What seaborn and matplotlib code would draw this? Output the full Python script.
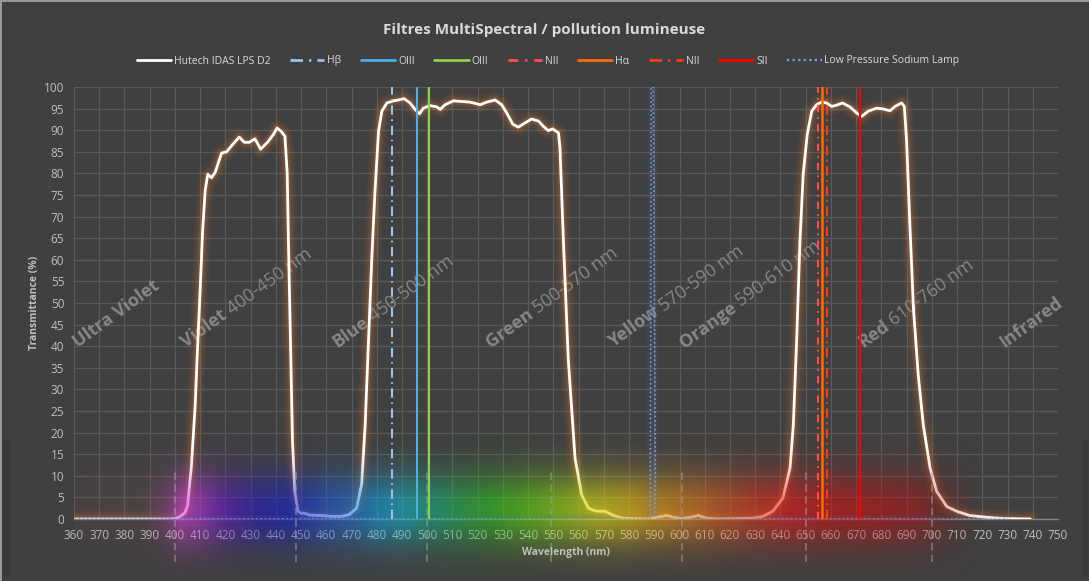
import numpy as np
import pandas as pd
import matplotlib
matplotlib.use("Agg")
import matplotlib.pyplot as plt
import seaborn as sns
from matplotlib.lines import Line2D
from matplotlib.patches import Rectangle

# ---------------- data ----------------
wavelength_nm = [360, 380, 398, 400, 402, 404, 405, 406.5, 408, 409, 410, 411, 412, 413,
                 414.5, 416, 417.5, 418.5, 420.5, 423, 425.5, 427.5, 429.5, 431.7, 434, 437,
                 439, 440.5, 442, 443.6, 444.5, 445, 445.8, 446.6, 447.5, 448.8, 450, 451,
                 453.5, 458, 462, 466, 469, 472, 474, 475.4, 476.7, 478, 479.3, 480.7, 482,
                 484, 486.6, 488.6, 490.8, 493.2, 495.2, 496.9, 498.5, 501, 503.8, 505.1,
                 507.1, 510.4, 517, 521, 523.6, 526.9, 529.5, 531.5, 533.9, 536.1, 538.8,
                 541.4, 544.1, 546, 548, 549.7, 552, 552.6, 554, 555.9, 558.6, 561.2, 563.9,
                 567, 570.5, 573.8, 577.8, 587, 591, 594.9, 597.5, 600.8, 604.1, 607.4,
                 610.7, 616, 629, 633, 637, 641, 643.8, 645.1, 646.4, 647.7, 649, 650.6,
                 652.4, 654.3, 656.3, 658.3, 660.3, 662.3, 664.6, 667.5, 670.2, 672.2, 674.8,
                 678.1, 680.8, 683.4, 685.4, 688, 689.1, 690, 691.3, 692.7, 694.6, 696.6,
                 699.3, 701.9, 705.9, 709.8, 715, 721.7, 728.3, 739]
transmittance = [0, 0, 0, 0.1, 0.5, 1.5, 3, 12, 26, 40, 53, 67, 76, 79.8,
                 79, 80.3, 83, 84.7, 85, 86.8, 88.4, 87.2, 87.2, 88, 85.6, 87.4,
                 89, 90.5, 89.8, 88.6, 80, 64, 41, 18, 6.4, 1.8, 1.3, 1.4,
                 0.9, 0.8, 0.6, 0.6, 1.0, 2.5, 8, 21.8, 41, 60, 76, 89.7, 94.4,
                 96.3, 96.8, 97, 97.3, 96.3, 94.8, 93.8, 95.1, 95.7, 95.4, 94.8,
                 95.9, 96.8, 96.5, 95.9, 96.5, 97, 95.9, 94, 91.4, 90.7, 91.7,
                 92.6, 92.1, 90.9, 89.9, 90.3, 89.4, 86, 64, 37, 14, 5.6, 2.5,
                 1.8, 1.8, 0.8, 0.2, 0, 0.4, 0.8, 0.4, 0.1, 0.4, 0.8,
                 0.2, 0, 0.2, 0.6, 1.8, 4.9, 11.8, 21.8, 41, 64, 79.7, 89,
                 94.4, 95.9, 96.5, 96.3, 95.5, 95.8, 96.3, 95.4, 94, 93.2, 94.4,
                 95.1, 94.9, 94.5, 95.5, 96.3, 95.5, 87.4, 68, 48.8, 33.4, 21.8,
                 11.8, 6.4, 2.9, 1.8, 0.8, 0.4, 0.1, 0]

sodium_nm = [360, 588.4, 588.8, 589.6, 590.5, 730]
sodium_T = [0, 0, 100, 100, 0, 0]

line_names = ["H\u03b2", "OIII", "OIII", "NII", "H\u03b1", "NII", "SII"]
line_nm = [486.1, 495.9, 500.7, 654.8, 656.3, 658.4, 671.6]

band_bold = ["Ultra Violet", "Violet", "Blue", "Green", "Yellow", "Orange", "Red", "Infrared"]
band_range = ["", "400-450 nm", "450-500 nm", "500-570 nm", "570-590 nm",
              "590-610 nm", "610-760 nm", ""]
band_label_nm = [361.5, 404.5, 464.5, 525.2, 573.8, 602, 672.8, 728.8]
band_boundaries = [400, 448, 500, 549, 601, 650, 700]

x_ticks = list(range(360, 751, 10))
y_ticks = list(range(0, 101, 5))

title = "Filtres MultiSpectral / pollution lumineuse"
curve_name = "Hutech IDAS LPS D2"
sodium_name = "Low Pressure Sodium Lamp"

# ---------------- styles ----------------
line_colors = ["#9DC3E6", "#4DB0E3", "#8DD14A", "#FF4D4D", "#FF6A00", "#FF3A12", "#FF0000"]
line_styles = [(0, (4.5, 2.2, 0.8, 2.2)), "-", "-", (0, (3.5, 2.5, 0.8, 2.5)), "-",
               (0, (4.5, 2.2, 0.8, 2.2)), "-"]
line_widths = [1.5, 1.5, 1.5, 1.5, 1.8, 1.5, 1.5]

BG = "#404040"
sns.set_theme(style="dark", rc={"axes.facecolor": BG, "figure.facecolor": BG})
plt.rcParams["font.family"] = ["Open Sans", "DejaVu Sans"]

W, H = 1089, 581
fig = plt.figure(figsize=(W / 100, H / 100), dpi=100, facecolor=BG)

# small decorative frame details
fig.patches.append(Rectangle((2 / W, 1 - 577 / H), 8 / W, 137 / H, transform=fig.transFigure,
                             facecolor="#393939", edgecolor="none", zorder=0))
fig.patches.append(Rectangle((1082 / W, 1 - 577 / H), 7 / W, 137 / H, transform=fig.transFigure,
                             facecolor="#393939", edgecolor="none", zorder=0))
fig.patches.append(Rectangle((0, 0), 2 / W, 1, transform=fig.transFigure,
                             facecolor="#9A9A9A", edgecolor="none", zorder=0))
fig.patches.append(Rectangle((0, 1 - 1.5 / H), 1, 1.5 / H, transform=fig.transFigure,
                             facecolor="#9A9A9A", edgecolor="none", zorder=0))

ax = fig.add_axes([74 / W, 1 - 519 / H, (1058 - 74) / W, (519 - 87) / H])
ax.set_facecolor(BG)
ax.set_xlim(360, 750)
ax.set_ylim(0, 100)
ax.set_xticks(x_ticks)
ax.set_yticks(y_ticks)
ax.set_xticklabels([str(v) for v in x_ticks])
ax.set_yticklabels([str(v) for v in y_ticks])
ax.grid(True, color="#5A5A5A", lw=0.9)
ax.set_axisbelow(True)
for name, s in ax.spines.items():
    s.set_visible(name == "bottom")
ax.spines["bottom"].set_color("#858585")
ax.spines["bottom"].set_linewidth(1.0)
ax.tick_params(axis="both", length=0, colors="#BFBFBF", labelsize=8.5)
ax.tick_params(axis="x", pad=7)
ax.tick_params(axis="y", pad=7)

# watermark band labels
fig.canvas.draw()
renderer = fig.canvas.get_renderer()
ang = 36
wm_size = 13
for nm, b, r in zip(band_label_nm, band_bold, band_range):
    ax.text(nm, 39.5, b, rotation=ang, rotation_mode="anchor", ha="left", va="baseline",
            fontsize=wm_size, fontweight="bold", color="#878787", zorder=1.2)
    if r:
        tmp = ax.text(0, 0, b + " ", fontsize=wm_size, fontweight="bold")
        wpx = tmp.get_window_extent(renderer).width
        tmp.remove()
        wpt = wpx * 72 / fig.dpi
        ax.annotate(r, xy=(nm, 39.5),
                    xytext=(wpt * np.cos(np.radians(ang)), wpt * np.sin(np.radians(ang))),
                    textcoords="offset points", rotation=ang, rotation_mode="anchor",
                    ha="left", va="baseline", fontsize=wm_size, color="#878787", zorder=1.2)

# main curve with orange glow
df = pd.DataFrame({"wl": wavelength_nm, "T": transmittance})
for lw, a in [(13, 0.05), (10, 0.08), (7, 0.12), (4.5, 0.2)]:
    sns.lineplot(data=df, x="wl", y="T", ax=ax, color="#D0752F", lw=lw, alpha=a, sort=False,
                 estimator=None, legend=False, zorder=2, solid_joinstyle="round",
                 solid_capstyle="round")
sns.lineplot(data=df, x="wl", y="T", ax=ax, color="white", lw=2.0, sort=False,
             estimator=None, legend=False, zorder=3, solid_joinstyle="round")

# spectrum background band (decorative)
stops_nm = [360, 385, 395, 402, 410, 420, 432, 445, 458, 470, 480, 490, 500, 512, 525,
            540, 555, 568, 580, 592, 605, 618, 632, 645, 660, 680, 695, 705, 720]
stops_col = ["#8a5050", "#8a5050", "#b040a0", "#e040e0", "#b030d8", "#6018c8", "#2818c0",
             "#1020d0", "#1850e0", "#1878e0", "#10a0e0", "#10b8d0", "#10b890", "#20b850",
             "#30c020", "#60d010", "#a0d810", "#d8d810", "#e8c010", "#e8a010", "#e88018",
             "#e85818", "#e83018", "#e81818", "#d81010", "#c81010", "#c01010", "#a01010",
             "#801010"]
stops_alpha = [0.12, 0.14, 0.3, 0.58, 0.62, 0.6, 0.6, 0.6, 0.58, 0.58, 0.6, 0.6, 0.58,
               0.6, 0.64, 0.64, 0.64, 0.64, 0.64, 0.62, 0.6, 0.58, 0.6, 0.62, 0.58, 0.56,
               0.48, 0.28, 0.0]
rgb = np.array([matplotlib.colors.to_rgb(c) for c in stops_col])
gx = np.linspace(360, 720, 400)
gy = np.linspace(-14, 22, 180)
R = np.interp(gx, stops_nm, rgb[:, 0])
G = np.interp(gx, stops_nm, rgb[:, 1])
B = np.interp(gx, stops_nm, rgb[:, 2])
A = np.interp(gx, stops_nm, stops_alpha)
vy = np.where(gy > 2, np.exp(-((gy - 2) / 8.5) ** 2), np.exp(-((gy - 2) / 8.5) ** 2))
img = np.zeros((len(gy), len(gx), 4))
img[..., 0] = R[None, :]
img[..., 1] = G[None, :]
img[..., 2] = B[None, :]
img[..., 3] = vy[:, None] * A[None, :]
ax.imshow(img, extent=(360, 720, -14, 22), origin="lower", aspect="auto",
          interpolation="bilinear", zorder=4, clip_on=False)

# band boundary dashed markers
for b in band_boundaries:
    ax.plot([b, b], [-10, 11], color="#A0A0A0", lw=1.3, alpha=0.55, ls=(0, (4, 2.5)),
            clip_on=False, zorder=4.5)

# sodium lamp line with soft glow
sod = pd.DataFrame({"wl": sodium_nm, "T": sodium_T})
sns.lineplot(data=sod, x="wl", y="T", ax=ax, color="#4472C4", lw=5, alpha=0.12, sort=False,
             estimator=None, legend=False, zorder=4.8)
sns.lineplot(data=sod, x="wl", y="T", ax=ax, color="#7A9DDE", lw=1.2, sort=False,
             estimator=None, legend=False, zorder=5, ls=(0, (1, 1.6)))

# emission lines
em = pd.DataFrame({"name": line_names, "nm": line_nm})
for i, row in em.iterrows():
    sns.lineplot(x=[row.nm, row.nm], y=[0, 100], ax=ax, color=line_colors[i],
                 lw=line_widths[i], ls=line_styles[i], legend=False, zorder=5.5,
                 estimator=None, sort=False)

ax.set_xlim(360, 750)
ax.set_ylim(0, 100)
ax.set_xlabel("")
ax.set_ylabel("")

# title and axis labels
fig.text(0.5, 1 - 30 / H, title, ha="center", va="center", fontsize=11,
         fontweight="bold", color="#D9D9D9")
fig.text(35 / W, 1 - 303 / H, "Transmittance (%)", rotation=90, ha="center", va="center",
         fontsize=7.5, fontweight="bold", color="#BFBFBF")
fig.text(566 / W, 1 - 553 / H, "Wavelength (nm)", ha="center", va="center",
         fontsize=7.5, fontweight="bold", color="#BFBFBF")

# legend
handles = [Line2D([], [], color="white", lw=2)]
labels = [curve_name]
for i in range(len(line_names)):
    handles.append(Line2D([], [], color=line_colors[i], lw=2, ls=line_styles[i]))
    labels.append(line_names[i])
handles.append(Line2D([], [], color="#7A9DDE", lw=1.6, ls=(0, (1, 1.5))))
labels.append(sodium_name)
fig.legend(handles, labels, loc="center", bbox_to_anchor=(548 / W, 1 - 61 / H),
           ncol=9, frameon=False, fontsize=7.5, handlelength=3.3, handletextpad=0.25,
           columnspacing=1.9, labelcolor="#D9D9D9")

fig.savefig("out.png", dpi=100, facecolor=BG)
